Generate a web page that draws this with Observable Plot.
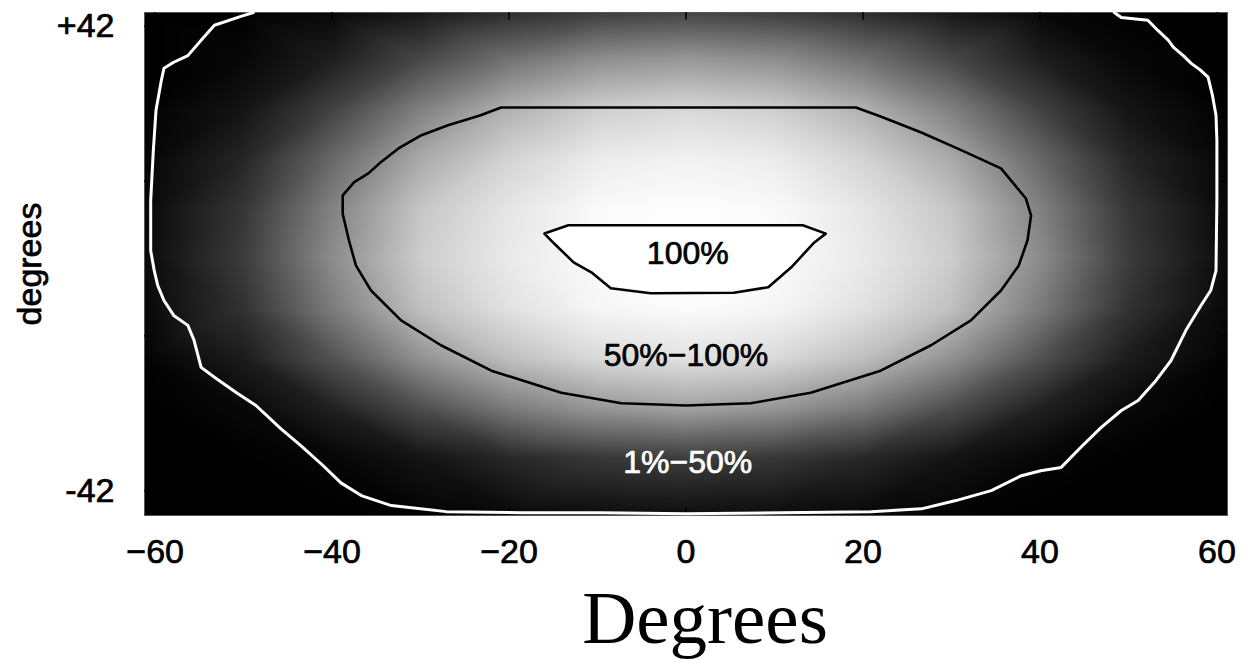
<!DOCTYPE html>
<html>
<head>
<meta charset="utf-8">
<script src="https://cdn.jsdelivr.net/npm/d3@7"></script>
<script src="https://cdn.jsdelivr.net/npm/@observablehq/plot@0.6"></script>
<style>
  html, body { margin: 0; padding: 0; background: #fff; }
  #wrap { position: relative; width: 1255px; height: 670px; }
  #title { position: absolute; left: 705px; top: 580px; transform: translateX(-50%);
           font-family: "Liberation Serif", "Times New Roman", serif; font-size: 75px; line-height: 1; color: #000; white-space: nowrap; }
  [aria-label$="tick label"] text { stroke: black; stroke-width: 0.7px; }
</style>
</head>
<body>
<div id="wrap"><div id="chart"></div><div id="title">Degrees</div></div>
<script>
// ---- axis ticks ----
const xTicks = [-60, -40, -20, 0, 20, 40, 60];
const yTickValues = [42, -42];
const yTickLabels = ["+42", "-42"];
const yMinorTicks = [42, 14, -14, -42];

// ---- intensity grid (grey level 0..255) ----
const gridX = [-61.2, -50, -40, -30, -20, -10, 0, 10, 20, 30, 40, 50, 61.2];
const gridY = [44.5, 36, 27, 18, 9, 0, -9, -18, -27, -36, -46.5];
const greyRow44 = [0, 1, 8, 24, 46, 62, 68, 62, 46, 24, 8, 1, 0];
const greyRow36 = [0, 7, 30, 72, 114, 143, 152, 143, 114, 72, 30, 7, 0];
const greyRow27 = [1, 20, 66, 128, 178, 207, 216, 207, 178, 128, 66, 20, 1];
const greyRow18 = [5, 38, 104, 170, 212, 236, 242, 236, 212, 170, 104, 38, 5];
const greyRow9  = [8, 54, 130, 198, 230, 250, 254, 250, 230, 198, 130, 54, 8];
const greyRow0  = [10, 60, 140, 205, 234, 251, 255, 251, 234, 205, 140, 60, 10];
const greyRowM9 = [8, 50, 124, 192, 226, 246, 252, 246, 226, 192, 124, 50, 8];
const greyRowM18 = [3, 28, 82, 146, 192, 218, 226, 218, 192, 146, 82, 28, 3];
const greyRowM27 = [0, 8, 33, 78, 124, 152, 163, 152, 124, 78, 33, 8, 0];
const greyRowM36 = [0, 1, 6, 20, 40, 56, 62, 56, 40, 20, 6, 1, 0];
const greyRowM46 = [0, 0, 0, 3, 8, 12, 14, 12, 8, 3, 0, 0, 0];
const greyRows = [greyRow44, greyRow36, greyRow27, greyRow18, greyRow9, greyRow0,
                  greyRowM9, greyRowM18, greyRowM27, greyRowM36, greyRowM46];

// ---- 1% contour (white, open path) ----
const c1X = [-48.9, -50.3, -53.3, -54.8, -56.3, -57.9, -59.0, -59.3, -59.9, -60.2, -60.5, -60.5, -60.1, -59.7, -59.0, -57.9, -56.3, -55.6, -54.8, -53.1, -50.8, -48.6, -45.8, -43.5, -41.0, -39.0, -36.7, -33.3, -27.1, -18.6, -9.6, 0, 10.7, 20.9, 26.6, 30.5, 34.5, 37.9, 40.1, 42.4, 44.6, 46.9, 49.2, 51.1, 53.1, 54.8, 56.5, 58.2, 59.3, 59.9, 60.0, 60.0, 59.9, 59.5, 59.0, 58.2, 57.1, 56.2, 55.1, 54.5, 53.3, 52.2, 49.2, 48.4];
const c1Y = [44.5, 43.8, 42.2, 39.5, 36.7, 35.5, 34.4, 32.2, 26.8, 19.6, 10.5, 1.4, -2.2, -4.9, -7.6, -10.3, -12.1, -14.8, -19.7, -21.7, -24.3, -26.6, -30.8, -33.9, -37.5, -40.6, -42.9, -44.7, -45.8, -46.0, -46.0, -46.2, -46.0, -45.8, -45.3, -43.8, -42.0, -39.3, -38.4, -37.8, -34.2, -30.6, -27.5, -25.7, -22.1, -18.5, -13.0, -8.5, -5.8, -2.2, 10.5, 21.4, 25.9, 29.5, 32.8, 34.0, 35.3, 36.7, 38.2, 39.5, 41.3, 43.1, 43.6, 44.5];

// ---- 50% contour (black, closed) ----
const c50X = [-20.9, -22.4, -23.2, -26.9, -29.9, -32.5, -34.5, -35.9, -37.5, -38.8, -38.8, -38.1, -37.3, -35.6, -32.2, -27.7, -22.0, -14.1, -7.3, 0, 7.3, 14.1, 22.0, 27.7, 32.2, 35.6, 37.6, 38.6, 39.0, 38.4, 35.6, 31.1, 26.6, 22.0, 19.2];
const c50Y = [27.3, 26.4, 25.9, 24.1, 22.3, 19.9, 17.4, 15.4, 13.8, 11.4, 8.1, 3.3, -1.3, -5.8, -11.2, -15.7, -20.3, -24.3, -26.2, -26.6, -26.2, -24.3, -20.3, -15.7, -11.2, -5.8, -1.3, 3.3, 7.8, 10.9, 16.3, 19.6, 22.8, 25.7, 27.3];

// ---- 100% region (white fill, black outline, closed) ----
const c100X = [-16.0, -13.3, 13.2, 15.8, 14.5, 11.9, 9.3, 5.4, -4.0, -8.5, -10.7, -12.7, -14.9];
const c100Y = [4.5, 6.0, 6.0, 4.5, 2.9, -1.6, -5.2, -6.2, -6.3, -5.4, -2.5, -0.7, 2.7];

// ---- region labels ----
const labelText = ["100%", "50%\u2212100%", "1%\u221250%"];
const labelX = [0.2, 0, 0.2];
const labelY = [0.9, -17.6, -36.9];
const labelColor = ["black", "black", "white"];

// ---- build tables ----
const grid = gridY.flatMap((y, i) => gridX.map((x, j) => ({x, y, g: greyRows[i][j]})));
const zip = (xs, ys) => xs.map((x, i) => ({x, y: ys[i]}));
const c1 = zip(c1X, c1Y), c50 = zip(c50X, c50Y), c100 = zip(c100X, c100Y);
const labels = labelText.map((t, i) => ({t, x: labelX[i], y: labelY[i], c: labelColor[i]}));
const X0 = -61.2, X1 = 61.2, Y0 = -46.5, Y1 = 44.5;

const chart = Plot.plot({
  width: 1255, height: 580,
  marginLeft: 144, marginRight: 28, marginTop: 12, marginBottom: 65,
  style: {fontFamily: "'Liberation Sans', Arial, Helvetica, sans-serif", fontSize: "34px", background: "white", color: "black"},
  x: {domain: [X0, X1]},
  y: {domain: [Y0, Y1]},
  color: {type: "linear", domain: [0, 255], range: ["black", "white"], interpolate: "rgb"},
  marks: [
    Plot.raster(grid, {x: "x", y: "y", fill: "g", interpolate: "barycentric", x1: X0, x2: X1, y1: Y0, y2: Y1}),
    Plot.frame({stroke: "#555", strokeWidth: 1}),
    Plot.ruleX(xTicks, {x: d => d, y1: Y0, y2: Y0 + 1.4, stroke: "black", strokeWidth: 1.5}),
    Plot.ruleX(xTicks, {x: d => d, y1: Y1, y2: Y1 - 1.4, stroke: "black", strokeWidth: 1.5}),
    Plot.ruleY(yMinorTicks, {y: d => d, x1: X0, x2: X0 + 0.9, stroke: "black", strokeWidth: 1.5}),
    Plot.ruleY(yMinorTicks, {y: d => d, x1: X1, x2: X1 - 0.9, stroke: "black", strokeWidth: 1.5}),
    Plot.line(c1, {x: "x", y: "y", stroke: "white", strokeWidth: 3, strokeLinejoin: "round"}),
    Plot.line(c50, {x: "x", y: "y", stroke: "black", strokeWidth: 2.6, curve: "linear-closed", strokeLinejoin: "round"}),
    Plot.line(c100, {x: "x", y: "y", stroke: "black", fill: "white", strokeWidth: 2.6, curve: "linear-closed", strokeLinejoin: "round"}),
    Plot.text(labels, {x: "x", y: "y", text: "t", fill: "c", stroke: "c", strokeWidth: 0.7, fontSize: 32, textAnchor: "middle", lineAnchor: "middle"}),
    Plot.axisX({ticks: xTicks, tickSize: 0, tickPadding: 23, label: null, fontSize: 34}),
    Plot.axisY({ticks: yTickValues, tickFormat: d => yTickLabels[yTickValues.indexOf(d)], tickSize: 0, tickPadding: 30, label: null, fontSize: 34}),
    Plot.text(["degrees"], {frameAnchor: "left", dx: -114, rotate: -90, text: d => d, fontSize: 34, textAnchor: "middle", lineAnchor: "middle", fill: "black", stroke: "black", strokeWidth: 0.7})
  ]
});
document.getElementById("chart").appendChild(chart);
</script>
</body>
</html>
